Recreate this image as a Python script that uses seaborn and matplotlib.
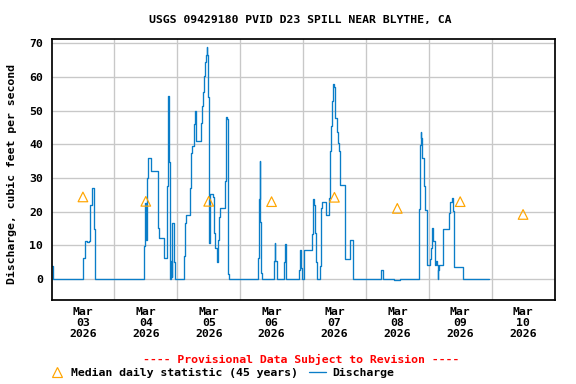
import numpy as np
import pandas as pd
import matplotlib
matplotlib.use("Agg")
import matplotlib.pyplot as plt
from matplotlib.lines import Line2D
import seaborn as sns

# ---------------- data ----------------
station_title = "USGS 09429180 PVID D23 SPILL NEAR BLYTHE, CA"
series_start = "2026-03-03 00:00"

# hours since series_start, discharge (cfs) holding until the next reading
hours = [0.3, 0.6, 12.0, 12.6, 13.4, 14.3, 14.8, 15.3, 16.1, 16.5,
         35.2, 35.6, 35.8, 36.2, 36.6, 37.0, 38.1, 40.7, 41.1, 43.1,
         43.9, 44.3, 44.6, 45.0, 45.4, 45.7, 45.9, 46.1, 46.6, 47.0,
         50.4, 50.8, 51.2, 53.0, 53.4, 53.8, 54.5, 54.8, 55.0, 55.3,
         56.9, 57.3, 57.7, 58.1, 58.5, 58.8, 59.2, 59.5, 59.7, 60.0,
         60.2, 60.4, 60.5, 61.8, 62.2, 62.6, 63.0, 63.4, 63.8, 64.2,
         66.1, 66.5, 66.8, 67.2, 67.5, 67.8,
         78.7, 79.1, 79.4, 79.6, 80.1, 80.3, 84.8, 85.2, 85.5, 85.9,
         88.6, 89.0, 89.4, 89.6, 94.3, 94.7, 95.3, 95.7, 96.2, 99.3,
         99.7, 100.1, 100.5, 100.9, 101.4, 102.4, 102.9, 103.3, 104.6, 105.8,
         106.2, 106.5, 106.9, 107.3, 107.7, 108.4, 108.8, 109.2, 109.6, 110.3,
         111.9, 112.2, 113.8, 114.9, 115.2, 125.9, 126.4, 130.8, 133.1,
         140.1, 140.5, 140.9, 141.2, 141.6, 142.0, 142.4, 143.2, 143.5, 144.3,
         144.7, 145.1, 145.8, 146.2, 146.6, 147.0, 147.4, 147.7, 148.1, 149.3,
         149.6, 151.9, 152.3, 152.7, 153.1, 153.5, 156.9, 167.0]
discharge = [3.9, 0.0, 6.4, 11.3, 11.0, 11.3, 22.0, 27.0, 14.9, 0.0,
             9.7, 18.6, 22.5, 11.7, 30.0, 35.9, 32.1, 15.3, 12.2, 6.4,
             27.5, 47.8, 54.4, 34.9, 0.0, 5.5, 0.5, 16.6, 5.0, 0.0,
             6.9, 16.6, 19.1, 27.0, 37.5, 39.5, 46.0, 50.0, 46.0, 41.0,
             46.3, 51.5, 55.5, 60.4, 64.6, 66.5, 68.9, 66.5, 54.2, 18.6,
             10.7, 15.6, 25.2, 24.5, 13.6, 9.2, 5.2, 11.7, 18.3, 21.0,
             29.0, 48.2, 47.5, 38.9, 1.6, 0.0,
             6.4, 23.8, 35.1, 17.0, 1.9, 0.0, 5.4, 10.7, 5.4, 0.0,
             5.2, 10.4, 8.5, 0.0, 2.8, 8.5, 3.3, 0.0, 8.5, 13.3,
             23.8, 22.0, 13.6, 5.2, 0.0, 3.9, 21.0, 23.0, 19.1, 24.0,
             38.1, 45.6, 52.9, 57.8, 57.1, 47.9, 43.8, 40.3, 38.1, 28.0,
             13.9, 5.9, 11.7, 2.1, 0.0, 2.6, 0.0, -0.3, 0.0,
             20.9, 39.8, 43.8, 41.8, 35.9, 27.5, 20.6, 5.9, 4.2, 5.9,
             9.2, 15.1, 11.4, 4.2, 5.3, 4.2, 0.0, 2.8, 4.2, 12.6,
             15.0, 19.6, 23.0, 24.0, 20.1, 3.7, 0.0, 0.0]

median_days = ["2026-03-03", "2026-03-04", "2026-03-05", "2026-03-06",
               "2026-03-07", "2026-03-08", "2026-03-09", "2026-03-10"]
median_cfs = [24.4, 23.1, 23.1, 23.0, 24.3, 21.0, 23.0, 19.2]

tick_labels = ["Mar\n03\n2026", "Mar\n04\n2026", "Mar\n05\n2026", "Mar\n06\n2026",
               "Mar\n07\n2026", "Mar\n08\n2026", "Mar\n09\n2026", "Mar\n10\n2026"]
y_ticks = [0, 10, 20, 30, 40, 50, 60, 70]

# ---------------- style ----------------
sns.set_theme(style="white")
plt.rcParams["font.family"] = ["DejaVu Sans Mono"]
plt.rcParams["font.weight"] = "bold"
plt.rcParams["text.color"] = "black"
plt.rcParams["axes.labelcolor"] = "black"
plt.rcParams["xtick.color"] = "black"
plt.rcParams["ytick.color"] = "black"
FS = 8.6
BLUE = "#0A7DC8"
ORANGE = "#FFA500"
GRID = "#C8C8C8"

fig = plt.figure(figsize=(6, 4), dpi=96)
W, H = 576, 384
left, right, top, bottom = 51.5, 554.5, 39.3, 300.0
ax = fig.add_axes([left / W, 1 - bottom / H, (right - left) / W, (bottom - top) / H])

times = pd.Timestamp(series_start) + pd.to_timedelta(hours, unit="h")
df = pd.DataFrame({"time": times, "cfs": discharge})
sns.lineplot(data=df, x="time", y="cfs", drawstyle="steps-post", color=BLUE,
             linewidth=1.0, ax=ax, legend=False, zorder=2)

med = pd.DataFrame({"time": pd.to_datetime(median_days) + pd.Timedelta(hours=12),
                    "cfs": median_cfs})
sns.scatterplot(data=med, x="time", y="cfs", marker="^", s=52, facecolor="none",
                edgecolor=ORANGE, linewidth=0.9, ax=ax, zorder=3, legend=False)

day0 = pd.Timestamp(median_days[0])
ax.set_xlim(day0, day0 + pd.Timedelta(days=8))
ax.set_ylim(-6.2, 71.2)

noons = pd.to_datetime(median_days) + pd.Timedelta(hours=12)
midnights = [day0 + pd.Timedelta(days=i) for i in range(1, 8)]
ax.set_xticks(noons)
ax.set_xticklabels(tick_labels, fontsize=FS, fontweight="bold", linespacing=1.12,
                   color="black")
ax.set_xticks(midnights, minor=True)
ax.set_yticks(y_ticks)
ax.set_yticklabels([str(v) for v in y_ticks], fontsize=FS, fontweight="bold",
                   color="black")
ax.tick_params(axis="x", which="both", length=0, pad=5.5, colors="black")
ax.tick_params(axis="y", length=0, pad=6.2, colors="black")

ax.grid(False)
ax.grid(True, which="minor", axis="x", color=GRID, linewidth=1.0)
ax.grid(True, which="major", axis="y", color=GRID, linewidth=1.0)
ax.set_axisbelow(True)
for sp in ax.spines.values():
    sp.set_color("black")
    sp.set_linewidth(1.3)
ax.set_xlabel("")
ax.set_ylabel("")

fig.text(300 / W, 1 - 20 / H, station_title, ha="center", va="center",
         fontsize=FS, fontweight="bold", color="black")
fig.text(12 / W, 1 - 174 / H, "Discharge, cubic feet per second", rotation=90,
         ha="center", va="center", fontsize=FS, fontweight="bold", color="black")
fig.text(301.5 / W, 1 - 359 / H, "---- Provisional Data Subject to Revision ----",
         ha="center", va="center", fontsize=FS, fontweight="bold", color="red")

handles = [Line2D([], [], marker="^", linestyle="none", markerfacecolor="none",
                  markeredgecolor=ORANGE, markersize=7.5, markeredgewidth=0.9),
           Line2D([], [], color=BLUE, linewidth=1.0)]
leg = fig.legend(handles, ["Median daily statistic (45 years)", "Discharge"],
                 loc="center left", bbox_to_anchor=(48 / W, 1 - 372.7 / H), ncol=2,
                 frameon=False, handlelength=1.5, handletextpad=0.5,
                 columnspacing=1.0, borderpad=0, borderaxespad=0,
                 prop={"family": "DejaVu Sans Mono", "weight": "bold", "size": FS})
for t in leg.get_texts():
    t.set_color("black")

fig.savefig("out.png", dpi=96)
